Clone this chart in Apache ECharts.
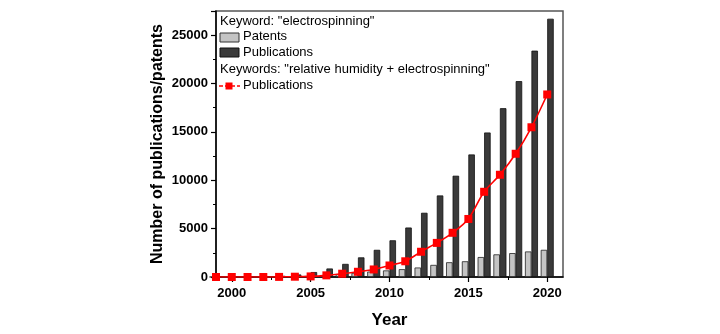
<!DOCTYPE html>
<html>
<head>
<meta charset="utf-8">
<script src="https://cdn.jsdelivr.net/npm/echarts@6/dist/echarts.min.js"></script>
<style>
  html, body { margin: 0; padding: 0; background: #fff; }
  #chart { width: 720px; height: 334px; }
</style>
</head>
<body>
<div id="chart"></div>
<script>
// Publication years
const years = [1999, 2000, 2001, 2002, 2003, 2004, 2005, 2006, 2007, 2008, 2009,
               2010, 2011, 2012, 2013, 2014, 2015, 2016, 2017, 2018, 2019, 2020];
// Keyword "electrospinning": patents per year
const patents = [2, 5, 10, 20, 35, 60, 120, 200, 300, 430, 560,
                 680, 810, 980, 1250, 1525, 1625, 2065, 2340, 2470, 2640, 2810];
// Keyword "electrospinning": publications per year
const publications = [5, 10, 25, 55, 120, 260, 510, 880, 1355, 2030, 2810,
                      3795, 5115, 6640, 8430, 10470, 12670, 14940, 17450, 20250, 23400, 26700];
// Keywords "relative humidity + electrospinning": publications per year
const rhPublications = [0, 0, 0, 0, 10, 30, 60, 170, 340, 540, 780,
                        1190, 1625, 2610, 3525, 4570, 6000, 8810, 10570, 12740, 15480, 18870];
// Axis ticks
const yearTicks = [2000, 2005, 2010, 2015, 2020];
const yearMinorTicks = [2002.5, 2007.5, 2012.5, 2017.5];

const FONT = 'Liberation Sans, Arial, sans-serif';
const chart = echarts.init(document.getElementById('chart'), null, { renderer: 'canvas' });

const patentColor = '#c4c4c4';
const pubColor = '#3a3a3a';
const red = '#ff0000';

chart.setOption({
  animation: false,
  grid: {
    left: 216, right: 157, top: 11, bottom: 53,
    show: true, borderColor: '#555', borderWidth: 1.5, backgroundColor: 'transparent'
  },
  xAxis: [{
    type: 'value', min: 1999, max: 2021,
    name: 'Year', nameLocation: 'middle', nameGap: 35,
    nameTextStyle: { fontFamily: FONT, fontWeight: 'bold', fontSize: 17, color: '#000' },
    axisLine: { show: true, lineStyle: { color: '#000', width: 1.5 } },
    axisTick: { show: true, inside: false, length: 5, customValues: yearTicks, lineStyle: { color: '#000', width: 1.2 } },
    axisLabel: { customValues: yearTicks, margin: 10, fontFamily: FONT, fontWeight: 'bold', fontSize: 13, color: '#000',
                 formatter: v => String(v) },
    splitLine: { show: false }
  }, {
    type: 'value', min: 1999, max: 2021, position: 'bottom', gridIndex: 0,
    axisLine: { show: false },
    axisTick: { show: true, length: 3, customValues: yearMinorTicks, lineStyle: { color: '#000', width: 1 } },
    axisLabel: { show: false },
    splitLine: { show: false }
  }],
  yAxis: {
    type: 'value', min: 0, max: 27500, interval: 5000,
    name: 'Number of publications/patents', nameLocation: 'middle', nameGap: 50,
    nameTextStyle: { fontFamily: FONT, fontWeight: 'bold', fontSize: 16, color: '#000' },
    axisLine: { show: true, lineStyle: { color: '#000', width: 1.5 } },
    axisTick: { show: true, length: 5, lineStyle: { color: '#000', width: 1.2 } },
    minorTick: { show: true, splitNumber: 2, length: 3, lineStyle: { color: '#000', width: 1 } },
    axisLabel: { margin: 8, fontFamily: FONT, fontWeight: 'bold', fontSize: 13, color: '#000',
                 showMaxLabel: false, formatter: v => (v % 5000 === 0 ? String(v) : '') },
    splitLine: { show: false }
  },
  series: [{
    name: 'Patents', type: 'bar', xAxisIndex: 0,
    data: years.map((y, i) => [y, patents[i]]),
    barWidth: 6.5, barGap: '0%',
    itemStyle: { color: patentColor, borderColor: '#222', borderWidth: 0.8 }
  }, {
    name: 'Publications', type: 'bar', xAxisIndex: 0,
    data: years.map((y, i) => [y, publications[i]]),
    barWidth: 6.5, barGap: '0%',
    itemStyle: { color: pubColor, borderColor: '#111', borderWidth: 0.8 }
  }, {
    name: 'RH Publications', type: 'line', xAxisIndex: 0,
    data: years.map((y, i) => [y, rhPublications[i]]),
    smooth: 0.3, symbol: 'rect', symbolSize: 8, z: 5,
    lineStyle: { color: red, width: 1.6 },
    itemStyle: { color: red }
  }],
  graphic: [
    { type: 'text', left: 220, top: 15, style: { text: 'Keyword: "electrospinning"', font: '13px ' + FONT, fill: '#000' } },
    { type: 'rect', shape: { x: 220, y: 33, width: 19, height: 9 }, style: { fill: patentColor, stroke: '#333', lineWidth: 1 } },
    { type: 'text', left: 243, top: 30, style: { text: 'Patents', font: '13px ' + FONT, fill: '#000' } },
    { type: 'rect', shape: { x: 220, y: 48, width: 19, height: 9 }, style: { fill: pubColor, stroke: '#111', lineWidth: 1 } },
    { type: 'text', left: 243, top: 46, style: { text: 'Publications', font: '13px ' + FONT, fill: '#000' } },
    { type: 'text', left: 220, top: 63, style: { text: 'Keywords: "relative humidity + electrospinning"', font: '13px ' + FONT, fill: '#000' } },
    { type: 'line', shape: { x1: 219, y1: 86, x2: 240, y2: 86 }, style: { stroke: red, lineWidth: 1.6, lineDash: [4, 2] } },
    { type: 'rect', shape: { x: 225.5, y: 82.5, width: 7, height: 7 }, style: { fill: red } },
    { type: 'text', left: 243, top: 79, style: { text: 'Publications', font: '13px ' + FONT, fill: '#000' } }
  ]
});
</script>
</body>
</html>
